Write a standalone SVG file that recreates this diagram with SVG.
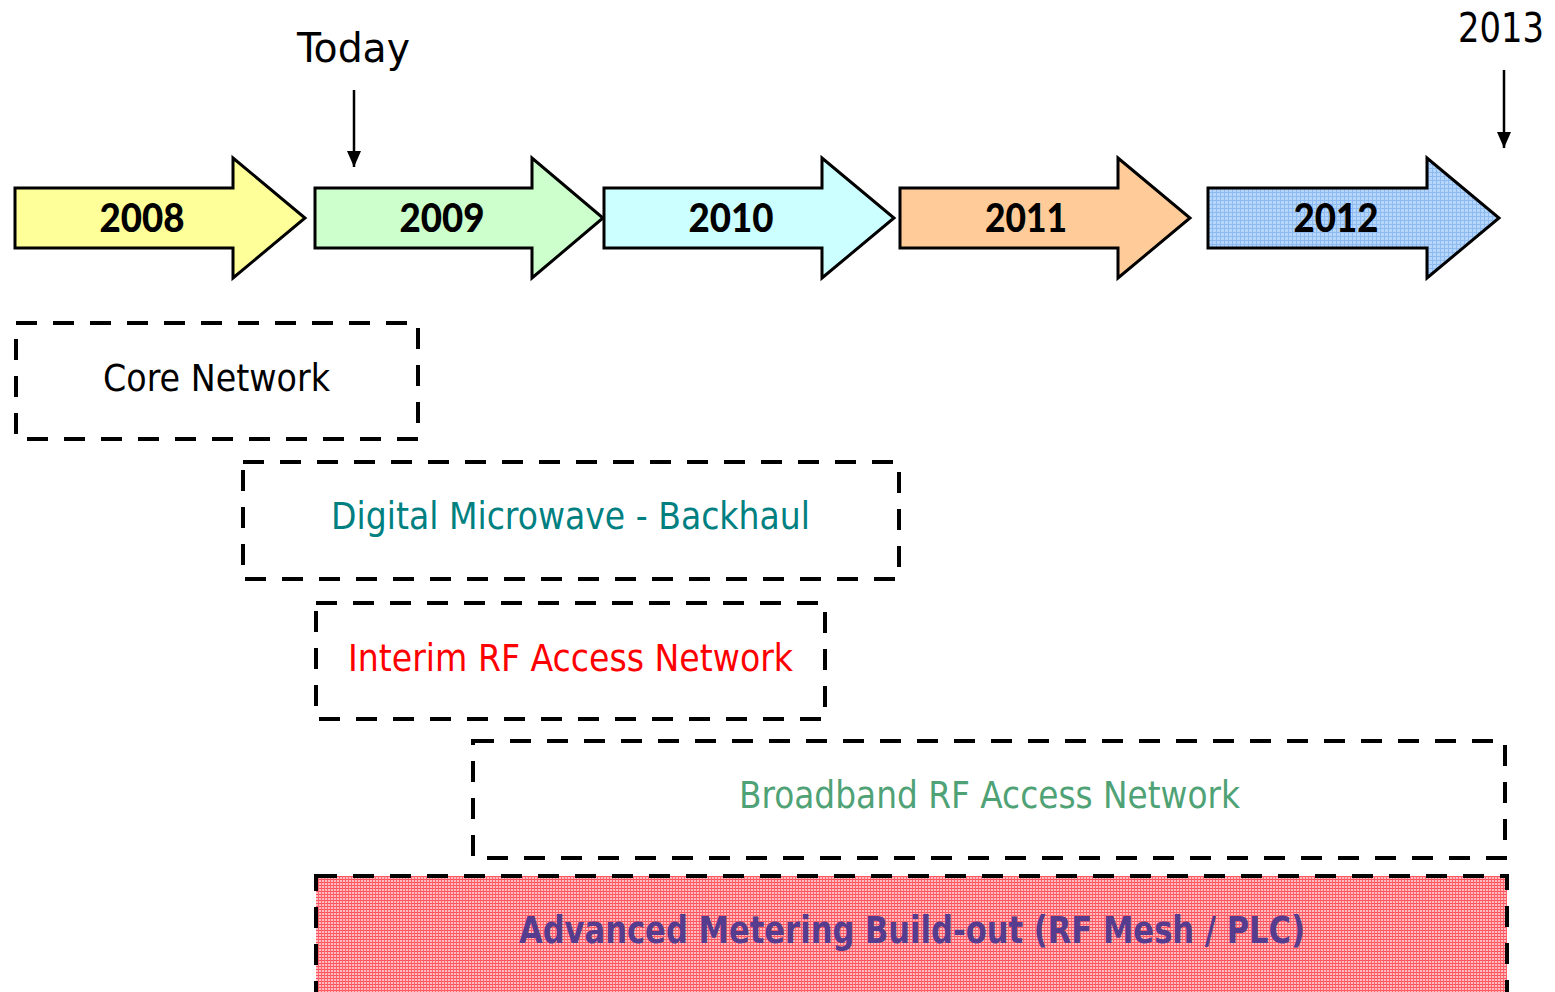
<svg xmlns="http://www.w3.org/2000/svg" width="1555" height="992" viewBox="0 0 1555 992">
  <defs>
    <style>
      .year { font-family: "Lato", "Open Sans", sans-serif; font-weight: 900; font-size: 40px; fill: #000; text-anchor: middle; }
      .phase { stroke: #000; stroke-width: 3; stroke-linejoin: miter; }
      .box { fill: none; stroke: #000; stroke-width: 4; stroke-dasharray: 21 16; }
      .label { font-family: "DejaVu Sans Condensed", "DejaVu Sans", sans-serif; font-size: 37px; }
      .marker-text { font-family: "DejaVu Sans Condensed", "DejaVu Sans", sans-serif; font-size: 40px; fill: #000; }
    </style>
    <!-- fine checked fill used by the 2012 arrow -->
    <pattern id="blueGrid" width="4" height="4" patternUnits="userSpaceOnUse">
      <rect width="4" height="4" fill="#b6d6fb"/>
      <rect x="0" y="0" width="4" height="1" fill="#8dbaf0"/>
      <rect x="0" y="0" width="1" height="4" fill="#8dbaf0"/>
    </pattern>
    <!-- fine red grid used by the metering band -->
    <pattern id="redGrid" width="3" height="3" patternUnits="userSpaceOnUse">
      <rect width="3" height="3" fill="#ffbcc1"/>
      <rect x="0" y="0" width="3" height="1" fill="#ff4f59"/>
      <rect x="0" y="0" width="1" height="3" fill="#ff636c"/>
    </pattern>
    <marker id="head" viewBox="0 0 16 14" refX="16" refY="7" markerWidth="16" markerHeight="14" markerUnits="userSpaceOnUse" orient="auto">
      <path d="M0,0 L16,7 L0,14 Z" fill="#000"/>
    </marker>
  </defs>

  <rect width="1555" height="992" fill="#fff"/>

  <!-- year arrows -->
  <g id="y2008">
    <path class="phase" fill="#ffff99" d="M15,188 H233 V158 L305,218 L233,278 V248 H15 Z"/>
    <text class="year" x="142" y="232" textLength="85" lengthAdjust="spacingAndGlyphs">2008</text>
  </g>
  <g id="y2009">
    <path class="phase" fill="#ccffcc" d="M315,188 H532 V158 L603,218 L532,278 V248 H315 Z"/>
    <text class="year" x="442" y="232" textLength="85" lengthAdjust="spacingAndGlyphs">2009</text>
  </g>
  <g id="y2010">
    <path class="phase" fill="#ccffff" d="M604,188 H822 V158 L894,218 L822,278 V248 H604 Z"/>
    <text class="year" x="731" y="232" textLength="85" lengthAdjust="spacingAndGlyphs">2010</text>
  </g>
  <g id="y2011">
    <path class="phase" fill="#ffcc99" d="M900,188 H1118 V158 L1190,218 L1118,278 V248 H900 Z"/>
    <text class="year" x="1026" y="232" textLength="82" lengthAdjust="spacingAndGlyphs">2011</text>
  </g>
  <g id="y2012">
    <path class="phase" fill="url(#blueGrid)" d="M1208,188 H1427 V158 L1499,218 L1427,278 V248 H1208 Z"/>
    <text class="year" x="1336" y="232" textLength="85" lengthAdjust="spacingAndGlyphs">2012</text>
  </g>

  <!-- time markers -->
  <g id="today">
    <text class="marker-text" x="297" y="62" textLength="113" lengthAdjust="spacingAndGlyphs">Today</text>
  </g>
  <g id="end2013">
    <text class="marker-text" x="1458" y="42" textLength="86" lengthAdjust="spacingAndGlyphs">2013</text>
  </g>

  <!-- workstreams -->
  <g id="core">
    <rect class="box" x="16" y="323" width="402" height="116"/>
    <text class="label" x="103" y="391" fill="#000" textLength="227" lengthAdjust="spacingAndGlyphs">Core Network</text>
  </g>
  <g id="microwave">
    <rect class="box" x="243" y="462" width="656" height="117"/>
    <text class="label" x="331" y="529" fill="#008080" textLength="479" lengthAdjust="spacingAndGlyphs">Digital Microwave - Backhaul</text>
  </g>
  <g id="interim">
    <rect class="box" x="316" y="603" width="509" height="116"/>
    <text class="label" x="348" y="671" fill="#ff0000" textLength="445" lengthAdjust="spacingAndGlyphs">Interim RF Access Network</text>
  </g>
  <g id="broadband">
    <rect class="box" x="473" y="741" width="1032" height="117"/>
    <text class="label" x="739" y="808" fill="#4fa275" textLength="501" lengthAdjust="spacingAndGlyphs">Broadband RF Access Network</text>
  </g>
  <g id="metering">
    <rect x="316" y="876" width="1191" height="130" fill="url(#redGrid)"/>
    <rect class="box" x="316" y="876" width="1191" height="130"/>
    <text class="label" x="519" y="943" fill="#553c8e" font-weight="bold" textLength="786" lengthAdjust="spacingAndGlyphs">Advanced Metering Build-out (RF Mesh / PLC)</text>
  </g>

  <!-- marker connectors -->
  <g id="connectors" stroke="#000" stroke-width="2.5">
    <line x1="354" y1="90" x2="354" y2="167" marker-end="url(#head)"/>
    <line x1="1504" y1="70" x2="1504" y2="148" marker-end="url(#head)"/>
  </g>
</svg>
